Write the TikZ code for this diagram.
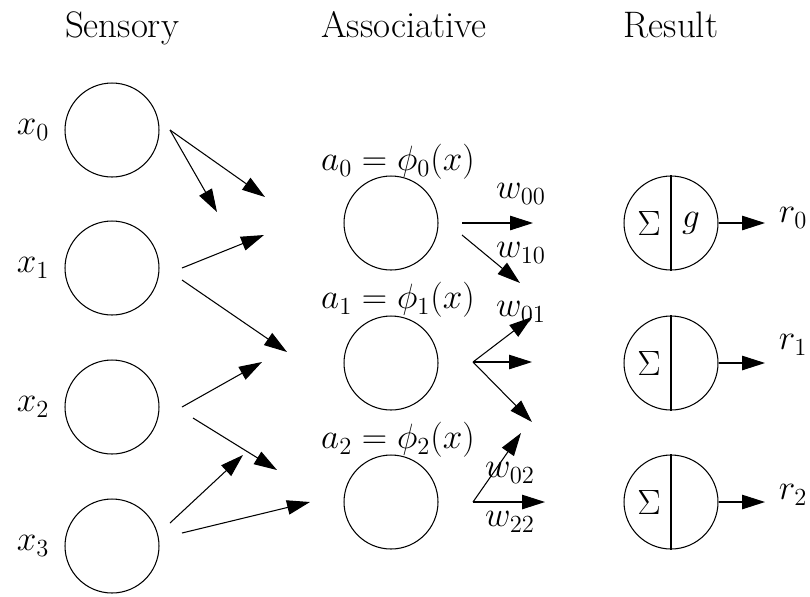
\RequirePackage{fix-cm}
\documentclass[tikz,border=0pt]{standalone}
\usetikzlibrary{arrows.meta,calc}

\begin{document}
\begin{tikzpicture}[
  x=0.02cm, y=-0.02cm,
  font=\fontsize{20}{24}\selectfont,
  title/.style={anchor=base, font=\fontsize{21}{25}\selectfont},
  unit/.style={draw, circle, minimum size=1.88cm, inner sep=0pt, line width=0.6pt},
  flow/.style={-{Triangle[length=4.6mm, width=2.9mm]}, line width=0.6pt}
]
\useasboundingbox (0,0) rectangle (810,596);

% column titles
\node[title] (tsens) at (122,37) {Sensory};
\node[title] (tassoc) at (404,37) {Associative};
\node[title] (tres) at (671,37) {Result};

% sensory layer
\node[unit] (s0) at (112,130) {};
\node[unit] (s1) at (112,268) {};
\node[unit] (s2) at (112,407) {};
\node[unit] (s3) at (112,546) {};
\node (lx0) at (33,130) {$x_0$};
\node (lx1) at (33,268) {$x_1$};
\node (lx2) at (33,407) {$x_2$};
\node (lx3) at (33,546) {$x_3$};

% associative layer
\node[unit] (a0) at (391,223) {};
\node[unit] (a1) at (391,363) {};
\node[unit] (a2) at (391,502) {};
\node (la0) at (398,162) {$a_0=\phi_0(x)$};
\node (la1) at (398,300) {$a_1=\phi_1(x)$};
\node (la2) at (398,440) {$a_2=\phi_2(x)$};

% result layer
\node[unit] (r0) at (671,223) {};
\node[unit] (r1) at (671,363) {};
\node[unit] (r2) at (671,502) {};
\draw[line width=0.6pt] (r0.north) -- (r0.south);
\draw[line width=0.6pt] (r1.north) -- (r1.south);
\draw[line width=0.6pt] (r2.north) -- (r2.south);
\node (sig0) at ($(r0)+(-22,0)$) {$\Sigma$};
\node (sig1) at ($(r1)+(-22,0)$) {$\Sigma$};
\node (sig2) at ($(r2)+(-22,0)$) {$\Sigma$};
\node (g0) at ($(r0)+(20,0)$) {$g$};
\node (lr0) at (793,218) {$r_0$};
\node (lr1) at (793,345) {$r_1$};
\node (lr2) at (793,495) {$r_2$};

% sensory -> associative
\coordinate (s0o) at (170,130);
\coordinate (s0p) at (217,212);
\coordinate (s0q) at (265,197);
\coordinate (s1o) at (182,268);
\coordinate (s1p) at (264,235);
\coordinate (s1u) at (182,280);
\coordinate (s1q) at (287,352);
\coordinate (s2o) at (182,407);
\coordinate (s2p) at (262,362);
\coordinate (s2u) at (193,418);
\coordinate (s2q) at (277,470);
\coordinate (s3o) at (170,523);
\coordinate (s3p) at (243,455);
\coordinate (s3u) at (182,533);
\coordinate (s3q) at (310,502);
\draw[flow] (s0o) -- (s0p);
\draw[flow] (s0o) -- (s0q);
\draw[flow] (s1o) -- (s1p);
\draw[flow] (s1u) -- (s1q);
\draw[flow] (s2o) -- (s2p);
\draw[flow] (s2u) -- (s2q);
\draw[flow] (s3o) -- (s3p);
\draw[flow] (s3u) -- (s3q);

% associative -> result weights
\coordinate (a0o) at (462,223);
\coordinate (a0u) at (462,235);
\coordinate (w00e) at (533,223);
\coordinate (w10e) at (520,283);
\coordinate (a1o) at (473,362);
\coordinate (w01e) at (532,317);
\coordinate (w11e) at (532,362);
\coordinate (w21e) at (532,422);
\coordinate (a2o) at (473,502);
\coordinate (w02e) at (521,433);
\coordinate (w22e) at (545,502);
\draw[flow] (a0o) -- (w00e);
\draw[flow] (a0u) -- (w10e);
\draw[flow] (a1o) -- (w01e);
\draw[flow] (a1o) -- (w11e);
\draw[flow] (a1o) -- (w21e);
\draw[flow] (a2o) -- (w02e);
\draw[flow] (a2o) -- (w22e);
\node (lw00) at (521,194) {$w_{00}$};
\node (lw10) at (521,253) {$w_{10}$};
\node (lw01) at (521,312) {$w_{01}$};
\node (lw02) at (510,473) {$w_{02}$};
\node (lw22) at (510,522) {$w_{22}$};

% outputs
\coordinate (rt0) at (765,223);
\coordinate (rt1) at (765,363);
\coordinate (rt2) at (765,502);
\draw[flow] (r0.east) -- (rt0);
\draw[flow] (r1.east) -- (rt1);
\draw[flow] (r2.east) -- (rt2);
\end{tikzpicture}
\end{document}
